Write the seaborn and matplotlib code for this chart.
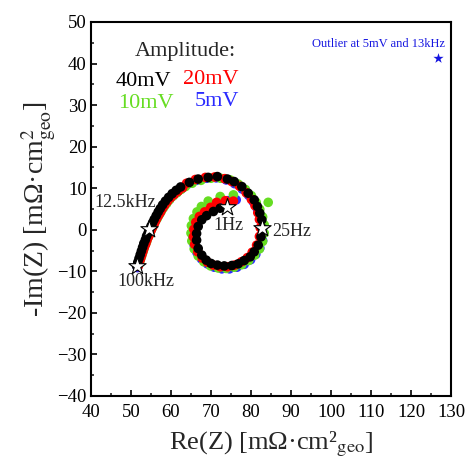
import matplotlib
matplotlib.use("Agg")
import matplotlib.pyplot as plt
import seaborn as sns
import pandas as pd

# ---- data ----
amplitudes = ["5mV", "10mV", "20mV", "40mV"]  # drawing order (black on top)
colors = {"40mV": "#000000", "20mV": "#ff0000", "10mV": "#66dd22", "5mV": "#2a2aff"}

re_40 = [51.4, 51.7, 52.0, 52.3, 52.6, 52.9, 53.2, 53.6, 53.9, 54.3, 54.6, 55.0, 55.4, 55.8, 56.3,
         56.8, 57.3, 57.9, 58.6, 59.4, 60.3, 61.3, 62.4,
         64.6, 66.8, 69.3, 71.6, 74.1, 75.8, 77.7, 79.3, 80.8, 81.6, 82.2, 82.7, 82.8, 82.5, 81.8,
         80.8, 79.8, 78.3, 76.8, 75.2, 73.3, 71.6, 70.0, 68.8, 67.7, 66.8, 66.4, 66.4, 66.8, 67.7,
         68.9, 70.6, 72.3]
im_40 = [-8.7, -7.8, -6.9, -6.0, -5.1, -4.2, -3.3, -2.4, -1.5, -0.7, 0.1, 0.9, 1.7, 2.5, 3.4,
         4.3, 5.1, 6.0, 6.9, 7.8, 8.7, 9.5, 10.3,
         11.4, 12.2, 12.6, 12.8, 12.2, 11.6, 10.4, 8.8, 7.2, 5.6, 4.0, 2.4, 0.4, -1.7, -3.7,
         -5.3, -6.5, -7.4, -8.2, -8.6, -8.7, -8.5, -8.1, -7.3, -6.1, -4.5, -2.5, -0.9, 0.8, 2.4,
         3.4, 4.4, 5.2]

re_20 = [51.8, 52.1, 52.4, 52.7, 53.0, 53.3, 53.7, 54.0, 54.4, 54.7, 55.1, 55.5, 55.9, 56.3, 56.8,
         57.3, 57.8, 58.4, 59.1, 59.9, 60.8, 61.8, 62.9,
         63.9, 66.1, 68.6, 70.9, 73.4, 75.2, 77.1, 78.8, 80.1, 81.0, 81.7, 82.1, 82.3, 82.1, 81.4,
         80.3, 79.1, 77.6, 75.9, 74.1, 72.3, 70.6, 69.1, 67.8, 66.7, 65.9, 65.6, 65.7, 66.2, 67.1,
         68.4, 69.9, 71.4, 73.6, 75.6]
im_20 = [-8.8, -7.9, -7.0, -6.1, -5.2, -4.3, -3.4, -2.5, -1.6, -0.8, 0.0, 0.8, 1.6, 2.4, 3.3,
         4.1, 5.0, 5.9, 6.8, 7.7, 8.5, 9.3, 10.1,
         11.2, 12.1, 12.6, 12.7, 12.3, 11.6, 10.5, 8.9, 7.3, 5.8, 4.1, 2.5, 0.5, -1.6, -3.7,
         -5.4, -6.7, -7.7, -8.5, -8.9, -8.9, -8.5, -7.8, -6.8, -5.3, -3.5, -1.7, 0.1, 1.8, 3.2,
         4.3, 5.4, 6.6, 7.0, 6.9]

re_10 = [52.0, 52.3, 52.6, 52.9, 53.2, 53.5, 53.9, 54.2, 54.6, 54.9, 55.3, 55.7, 56.1, 56.6, 57.1,
         57.6, 58.2, 58.9, 59.6, 60.5, 61.5, 62.5, 63.6,
         65.3, 67.5, 70.0, 72.4, 74.8, 76.8, 78.6, 80.1, 81.3, 82.2, 82.9, 83.3, 83.3, 82.9, 82.1,
         80.9, 79.4, 77.7, 75.8, 73.8, 71.8, 69.9, 68.2, 66.8, 65.8, 65.2, 65.0, 65.1, 65.6, 66.5,
         67.6, 69.3, 72.3, 75.6, 84.3]
im_10 = [-8.3, -7.4, -6.5, -5.6, -4.7, -3.8, -2.9, -2.0, -1.2, -0.4, 0.4, 1.2, 2.0, 2.8, 3.7,
         4.5, 5.4, 6.3, 7.2, 8.1, 8.9, 9.7, 10.4,
         11.2, 11.9, 12.4, 12.4, 12.0, 11.0, 9.7, 8.2, 6.6, 4.9, 3.1, 1.2, -0.8, -2.8, -4.6,
         -6.1, -7.4, -8.4, -9.0, -9.3, -9.2, -8.7, -7.7, -6.3, -4.6, -2.7, -0.8, 1.0, 2.7, 4.3,
         5.6, 6.9, 8.0, 8.4, 6.6]

re_5 = [51.6, 51.9, 52.2, 52.5, 52.8, 53.1, 53.5, 53.8, 54.2, 54.5, 54.9, 55.3, 55.7, 56.1, 56.6,
        57.1, 57.6, 58.2, 58.9, 59.7, 60.6, 61.6, 62.7,
        64.2, 66.4, 68.9, 71.3, 73.8, 75.9, 77.8, 79.4, 80.6, 81.6, 82.4, 82.9, 83.1, 82.9, 82.2,
        81.2, 79.9, 78.3, 76.5, 74.6, 72.7, 70.8, 69.1, 67.6, 66.5, 65.8, 65.5, 65.7, 66.3, 67.3,
        68.7, 70.3, 72.0, 74.2, 76.3]
im_5 = [-9.1, -8.2, -7.3, -6.4, -5.5, -4.6, -3.7, -2.8, -1.9, -1.1, -0.3, 0.5, 1.3, 2.1, 3.0,
        3.8, 4.7, 5.6, 6.5, 7.4, 8.3, 9.1, 9.9,
        11.0, 11.9, 12.4, 12.5, 12.0, 11.1, 9.8, 8.3, 6.7, 5.0, 3.2, 1.4, -0.6, -2.6, -4.4,
        -5.9, -7.2, -8.3, -9.0, -9.4, -9.4, -9.0, -8.2, -7.0, -5.5, -3.7, -1.8, 0.1, 1.8, 3.3,
        4.5, 5.5, 6.5, 7.0, 7.2]

star_re = [51.4, 54.6, 82.8, 73.9]
star_im = [-8.7, 0.1, 0.4, 5.6]
star_labels = ["100kHz", "12.5kHz", "25Hz", "1Hz"]

outlier_re = [126.8]
outlier_im = [41.3]

# ---- build long-form table ----
series = {"5mV": (re_5, im_5), "10mV": (re_10, im_10),
          "20mV": (re_20, im_20), "40mV": (re_40, im_40)}
frames = []
for amp in amplitudes:
    r, i = series[amp]
    frames.append(pd.DataFrame({"re": r, "im": i, "amp": amp}))
df = pd.concat(frames, ignore_index=True)

sns.set_style("white")
plt.rcParams["font.family"] = ["Liberation Serif", "DejaVu Serif"]
plt.rcParams["mathtext.fontset"] = "stix"

fig = plt.figure(figsize=(4.69, 4.74), dpi=100)
ax = fig.add_axes([91 / 469, 1 - 396 / 474, 360 / 469, 374 / 474])

sns.scatterplot(data=df, x="re", y="im", hue="amp", palette=colors, s=48,
                linewidth=0, legend=False, ax=ax, zorder=2)

sns.scatterplot(x=star_re, y=star_im, marker="*", s=170, color="white",
                edgecolor="black", linewidth=0.8, ax=ax, zorder=3)
sns.scatterplot(x=outlier_re, y=outlier_im, marker="*", s=60, color="#1515e0",
                linewidth=0, ax=ax, zorder=3)

ax.set_xlim(40, 130)
ax.set_ylim(-40, 50)
ax.set_xticks(range(40, 131, 10))
ax.set_yticks(range(-40, 51, 10))
ax.set_xticks(range(45, 130, 10), minor=True)
ax.set_yticks(range(-35, 50, 10), minor=True)
ax.tick_params(which="major", direction="in", length=4, width=1.2, labelsize=13.5,
               bottom=True, left=True, top=False, right=False, colors="black")
ax.tick_params(axis="x", which="major", pad=6)
ax.tick_params(axis="y", which="major", pad=3)
ax.tick_params(which="minor", direction="in", length=2.5, width=1.2,
               bottom=True, left=True, top=False, right=False)
for sp in ax.spines.values():
    sp.set_linewidth(1.5)
    sp.set_color("black")

ax.set_xlabel("Re(Z) [mΩ·cm²$_{\\mathrm{geo}}$]", fontsize=19, labelpad=6)
ax.set_ylabel("-Im(Z) [mΩ·cm$^{2}_{\\mathrm{geo}}$]", fontsize=20, labelpad=0)

# annotations
ax.text(56.2, 6.6, star_labels[1], fontsize=13, ha="right", va="center")
ax.text(53.8, -12.5, star_labels[0], fontsize=13, ha="center", va="center")
ax.text(85.2, -0.4, star_labels[2], fontsize=13, ha="left", va="center")
ax.text(74.3, 1.1, star_labels[3], fontsize=13, ha="center", va="center")
ax.text(128.5, 44.8, "Outlier at 5mV and 13kHz", fontsize=9, color="#1515e0",
        ha="right", va="center")

# amplitude legend as text
ax.text(63.5, 43.0, "Amplitude:", fontsize=16, ha="center", va="center")
ax.text(46.2, 35.6, "40mV", fontsize=16, color=colors["40mV"], ha="left", va="center")
ax.text(63.0, 36.2, "20mV", fontsize=16, color="#ff0000", ha="left", va="center")
ax.text(46.7, 30.3, "10mV", fontsize=16, color="#66dd22", ha="left", va="center")
ax.text(66.0, 30.8, "5mV", fontsize=16, color="#2a2aff", ha="left", va="center")

fig.savefig("out.png", dpi=100, facecolor="white")
